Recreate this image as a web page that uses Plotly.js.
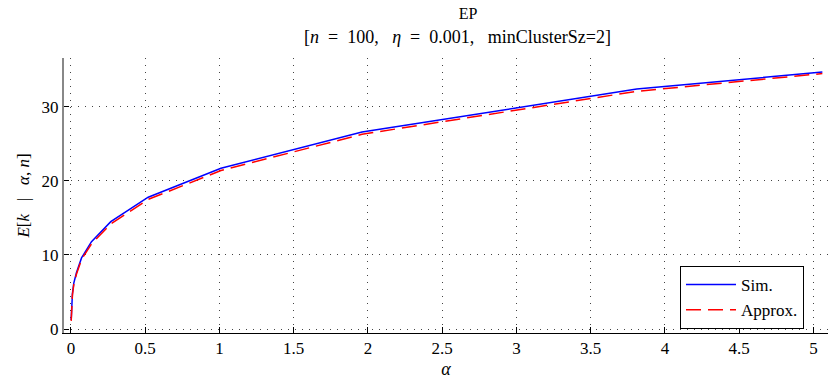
<!DOCTYPE html>
<html>
<head>
<meta charset="utf-8">
<script src="https://cdn.plot.ly/plotly-3.0.1.min.js"></script>
<style>html,body{margin:0;padding:0;background:#fff;}#chart{width:828px;height:379px;}</style>
</head>
<body>
<div id="chart"></div>
<script>
// Data
const alpha   = [0.0013, 0.0026, 0.005, 0.0097, 0.0188, 0.0366, 0.071, 0.138, 0.268, 0.52, 1.01, 1.96, 3.81, 5.06];
const simE    = [1.2, 2.2, 3.4, 4.8, 6.2, 7.6, 9.6, 11.8, 14.5, 17.8, 21.7, 26.6, 32.4, 34.7];
const approxE = [1.1, 2.1, 3.2, 4.6, 6.0, 7.4, 9.4, 11.5, 14.2, 17.5, 21.4, 26.3, 32.1, 34.5];
const xTicks = [0, 0.5, 1, 1.5, 2, 2.5, 3, 3.5, 4, 4.5, 5];
const xTickText = ['0', '0.5', '1', '1.5', '2', '2.5', '3', '3.5', '4', '4.5', '5'];
const yTicks = [0, 10, 20, 30];
const yTickText = ['0', '10', '20', '30'];
const seriesNames = ['Sim.', 'Approx.'];

const FONT = 'Liberation Serif';
const S = '&nbsp;';

const traces = [
  {x: alpha, y: simE, name: seriesNames[0], type: 'scatter', mode: 'lines',
   line: {color: '#0000ff', width: 1.5}},
  {x: alpha, y: approxE, name: seriesNames[1], type: 'scatter', mode: 'lines',
   line: {color: '#ff0000', width: 1.5, dash: '15px,7px'}}
];

const layout = {
  width: 828, height: 379,
  margin: {l: 64, r: 0, t: 58, b: 46, pad: 0},
  paper_bgcolor: '#ffffff', plot_bgcolor: '#ffffff',
  font: {family: FONT, size: 17, color: '#000'},
  title: {text: 'EP', font: {family: FONT, size: 16, color: '#000'},
          x: 438/828, xref: 'paper', xanchor: 'center',
          y: 1 - 13/379, yref: 'container', yanchor: 'middle'},
  annotations: [{
    text: '[<i>n</i>' + S + S + '=' + S + S + '100,' + S + S + S + '<i>η</i>' + S + S + '=' + S + S + '0.001,' + S + S + S + 'minClusterSz=2]',
    xref: 'paper', yref: 'paper', x: (457-64)/764, y: 1 + (58-36.5)/275,
    xanchor: 'center', yanchor: 'middle', showarrow: false,
    font: {family: FONT, size: 18, color: '#000'}
  }],
  showlegend: true,
  legend: {x: (804-64)/764, y: (333-329)/275, xanchor: 'right', yanchor: 'bottom',
           bgcolor: '#ffffff', bordercolor: '#000', borderwidth: 1,
           itemwidth: 50, tracegroupgap: 0,
           font: {family: FONT, size: 17, color: '#000'}},
  xaxis: {
    range: [-0.0471, 5.098], tickvals: xTicks, ticktext: xTickText,
    ticks: 'inside', ticklen: 6, tickcolor: '#000', tickwidth: 1,
    showline: true, linecolor: '#000', linewidth: 1,
    showgrid: true, gridcolor: '#444', gridwidth: 1, griddash: '1px,6px',
    zeroline: false, tickfont: {family: FONT, size: 17, color: '#000'},
    title: {text: '<i>α</i>', font: {family: FONT, size: 18, color: '#000'}, standoff: 4}
  },
  yaxis: {
    range: [-0.54, 36.6], tickvals: yTicks, ticktext: yTickText,
    ticks: 'inside', ticklen: 5, tickcolor: '#000', tickwidth: 1,
    showline: true, linecolor: '#888', linewidth: 2,
    showgrid: true, gridcolor: '#444', gridwidth: 1, griddash: '1px,6px',
    zeroline: false, tickfont: {family: FONT, size: 17, color: '#000'},
    title: {text: '<i>E</i>[<i>k</i>' + S + S + S + '|' + S + S + S + '<i>α</i>,' + S + '<i>n</i>]', font: {family: FONT, size: 17, color: '#000'}, standoff: 8}
  }
};

Plotly.newPlot('chart', traces, layout, {displayModeBar: false, staticPlot: true});
</script>
</body>
</html>
